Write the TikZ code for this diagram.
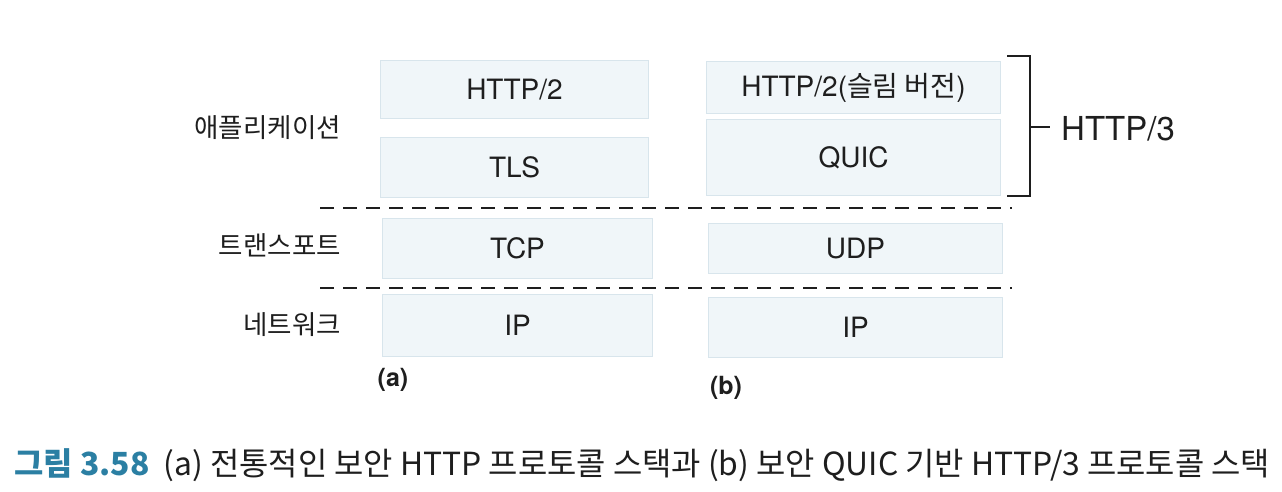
\documentclass[tikz,border=0pt]{standalone}
\usepackage{fontspec}
\setmainfont{TeX Gyre Heros}
\newfontfamily\kr{Noto Sans CJK KR}
\definecolor{boxfill}{HTML}{F0F6F9}
\definecolor{boxline}{HTML}{D8E5EC}
\definecolor{capblue}{HTML}{2B7FA3}
\definecolor{ink}{HTML}{1E1E1E}
\begin{document}
\begin{tikzpicture}[x=1pt,y=-1pt,
  layer/.style={draw=boxline,fill=boxfill,line width=1pt,anchor=north west,inner sep=0pt,font=\fontsize{28}{30}\selectfont,text=ink},
  lbl/.style={anchor=east,font=\kr\fontsize{26.5}{28}\selectfont,text=ink,inner sep=0pt},
  sep/.style={draw=ink,line width=2.2pt,dash pattern=on 14pt off 9pt},
  brk/.style={draw=ink,line width=1.8pt}]
\useasboundingbox (0,0) rectangle (1282,492);
% stack (a)
\node[layer,minimum width=268pt,minimum height=58pt] (ahttp) at (380,60) {HTTP/2};
\node[layer,minimum width=268pt,minimum height=60pt] (atls) at (380,137) {TLS};
\node[layer,minimum width=270pt,minimum height=60pt] (atcp) at (382,218) {TCP};
\node[layer,minimum width=270pt,minimum height=62pt] (aip) at (382,294) {IP};
% stack (b)
\node[layer,minimum width=294pt,minimum height=52pt] (bhttp) at (706,61) {HTTP/2({\kr 슬림 버전})};
\node[layer,minimum width=294pt,minimum height=76pt] (bquic) at (706,119) {QUIC};
\node[layer,minimum width=294pt,minimum height=50pt] (budp) at (708,223) {UDP};
\node[layer,minimum width=294pt,minimum height=60pt] (bip) at (708,297) {IP};
% layer labels
\node[lbl] (lapp) at (341,128) {애플리케이션};
\node[lbl] (ltr) at (341,245) {트랜스포트};
\node[lbl] (lnet) at (341,325) {네트워크};
% separators
\coordinate (s1l) at (320,208); \coordinate (s1r) at (1012,208);
\coordinate (s2l) at (320,288); \coordinate (s2r) at (1012,288);
\draw[sep] (s1l) -- (s1r);
\draw[sep] (s2l) -- (s2r);
% bracket
\coordinate (bt) at (1007,56); \coordinate (btr) at (1030,56);
\coordinate (bb) at (1007,196); \coordinate (bbr) at (1030,196);
\coordinate (bm) at (1030,127); \coordinate (bme) at (1050,127);
\draw[brk] (bt) -- (btr) -- (bbr) -- (bb);
\draw[brk] (bm) -- (bme);
\node[anchor=west,inner sep=0pt,font=\fontsize{33}{36}\selectfont,text=ink] (h3) at (1061,129) {HTTP/3};
% sub labels
\node[inner sep=0pt,font=\fontsize{25}{28}\selectfont\bfseries,text=ink] (la) at (393,380) {(a)};
\node[inner sep=0pt,font=\fontsize{25}{28}\selectfont\bfseries,text=ink] (lb) at (726,388) {(b)};
% caption
\node[anchor=west,inner sep=0pt,text=ink] (cap) at (14,465) {\resizebox{1256pt}{!}{\kr\fontsize{24}{28}\selectfont{\color{capblue}\bfseries 그림 3.58}\ \ (a) 전통적인 보안 HTTP 프로토콜 스택과 (b) 보안 QUIC 기반 HTTP/3 프로토콜 스택}};
\end{tikzpicture}
\end{document}
